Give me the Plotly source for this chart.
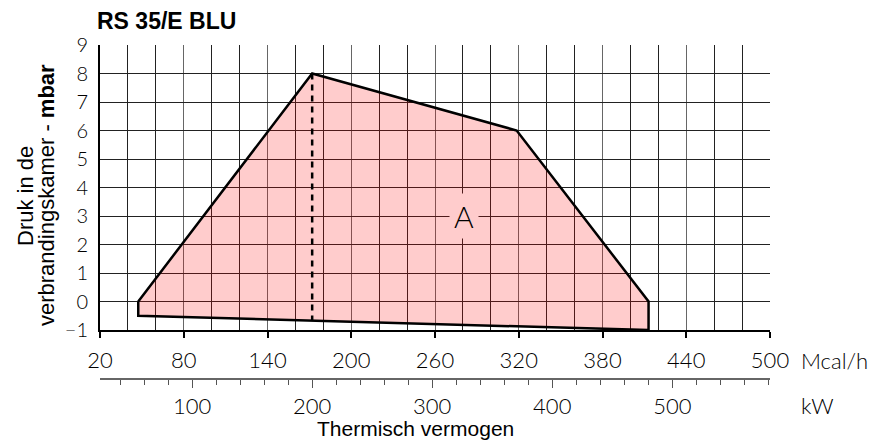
import plotly.graph_objects as go

# ---- data ----
title_text = "RS 35/E BLU"
y_title_1 = "Druk in de"
y_title_2 = "verbrandingskamer - <b>mbar</b>"
x_title = "Thermisch vermogen"
area_x = [47.4, 172, 318.5, 413, 413, 47.4, 47.4]     # Mcal/h
area_y = [0, 8, 6, 0, -1, -0.5, 0]                     # mbar
dash_kw = [200, 200]                                   # kW
dash_y = [8, -0.66]
label_A = ("A", 281, 3)
mcal_ticks = [20, 80, 140, 200, 260, 320, 380, 440, 500]
kw_ticks = [100, 200, 300, 400, 500]
y_ticks = [-1, 0, 1, 2, 3, 4, 5, 6, 7, 8, 9]
KW_TO_MCAL = 0.86

light_font = dict(family="Lato", size=22, color="#000", weight=300)
text_font = "Liberation Sans, Arial, sans-serif"

fig = go.Figure()
fig.add_trace(go.Scatter(
    x=area_x, y=area_y, mode="lines", fill="toself",
    fillcolor="rgba(255,0,0,0.2)", line=dict(color="#000", width=2.5),
    hoverinfo="skip", showlegend=False))
fig.add_trace(go.Scatter(
    x=dash_kw, y=dash_y, mode="lines", xaxis="x2",
    line=dict(color="#000", width=2.5, dash="6px,5px"),
    hoverinfo="skip", showlegend=False))

ydom0 = 49 / 334
fig.update_layout(
    width=880, height=441,
    margin=dict(l=100, r=110, t=45, b=62),
    paper_bgcolor="white", plot_bgcolor="white",
    title=dict(text="<b>" + title_text + "</b>", x=97 / 880, xanchor="left",
               y=1 - 21 / 441, yanchor="middle",
               font=dict(family=text_font, size=23, color="#000")),
    xaxis=dict(range=[20, 500], tickvals=mcal_ticks, ticks="outside", ticklen=6,
               tickcolor="#000", tickwidth=1.5,
               showline=True, linecolor="#000", linewidth=2,
               showgrid=True, gridcolor="#666", gridwidth=1.3,
               minor=dict(dtick=20, tick0=20, showgrid=True, gridcolor="#222", gridwidth=1, ticks=""),
               tickfont=light_font, ticklabelstandoff=4, anchor="y", zeroline=False,
               automargin=False),
    xaxis2=dict(range=[20 / KW_TO_MCAL, 500 / KW_TO_MCAL], overlaying="x",
                anchor="free", position=0, side="bottom",
                tickvals=kw_ticks, ticks="outside", ticklen=8, tickcolor="#555",
                showline=True, linecolor="#666", linewidth=1.5,
                minor=dict(dtick=20, tick0=0, ticks="outside", ticklen=5, tickcolor="#555"),
                showgrid=False, zeroline=False, tickfont=light_font,
                ticklabelstandoff=0, automargin=False),
    yaxis=dict(range=[-1, 9], tickvals=y_ticks, domain=[ydom0, 1],
               showline=True, linecolor="#000", linewidth=2,
               showgrid=True, gridcolor="#222", gridwidth=1, zeroline=False,
               ticks="", ticklabelstandoff=6, automargin=False,
               tickfont=dict(family="Lato", size=20, color="#000", weight=300)),
)

fig.add_annotation(text=y_title_1, x=(26 - 100) / 670, y=(379 - 196) / 334,
                   xref="paper", yref="paper", xanchor="center", yanchor="middle",
                   textangle=-90, showarrow=False,
                   font=dict(family=text_font, size=22, color="#000"))
fig.add_annotation(text=y_title_2, x=(46 - 100) / 670, y=(379 - 195) / 334,
                   xref="paper", yref="paper", xanchor="center", yanchor="middle",
                   textangle=-90, showarrow=False,
                   font=dict(family=text_font, size=22, color="#000"))
fig.add_annotation(text=label_A[0], x=label_A[1], y=label_A[2], xref="x", yref="y",
                   showarrow=False, bgcolor="#ffcccc", borderpad=4,
                   font=dict(family="Lato", size=30, color="#000", weight=300))
fig.add_annotation(text="Mcal/h", x=(799 - 100) / 670, y=(379 - 360) / 334,
                   xref="paper", yref="paper", xanchor="left", yanchor="middle",
                   showarrow=False, font=light_font)
fig.add_annotation(text="kW", x=(799 - 100) / 670, y=(379 - 405) / 334,
                   xref="paper", yref="paper", xanchor="left", yanchor="middle",
                   showarrow=False, font=light_font)
fig.add_annotation(text=x_title, x=(415 - 100) / 670, y=(379 - 428) / 334,
                   xref="paper", yref="paper", xanchor="center", yanchor="middle",
                   showarrow=False, font=dict(family=text_font, size=21, color="#000"))

fig.write_html("out.html", config={"displayModeBar": False},
               post_script="document.body.style.margin='0';document.body.style.overflow='hidden';")
